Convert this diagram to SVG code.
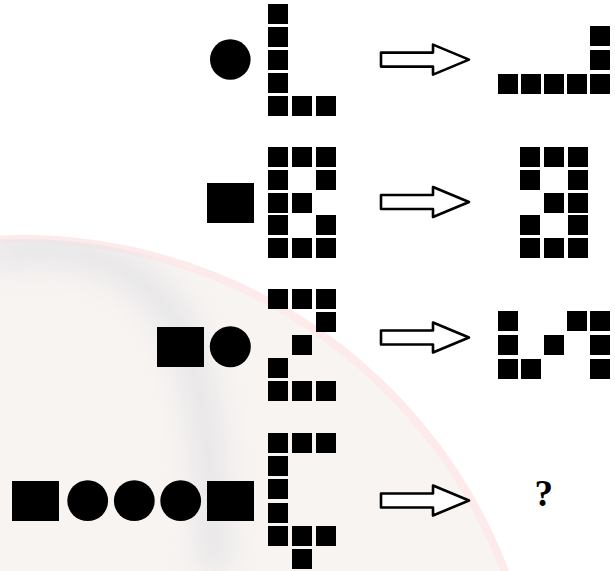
<svg xmlns="http://www.w3.org/2000/svg" xmlns:xlink="http://www.w3.org/1999/xlink" width="615" height="571" viewBox="0 0 615 571">
  <style>
    .c { fill: #000; }
    .s { fill: #000; }
    .arrow { fill: #fff; stroke: #000; stroke-width: 2.6; stroke-linejoin: round; }
    .q { font-family: "Liberation Serif", "Times New Roman", serif; font-weight: bold; font-size: 37px; fill: #000; }
  </style>
  <defs>
    <rect id="cell" width="20" height="20"/>
    <path id="arr" d="M381,-7 H433 V-15 L469,0 L433,15 V7 H381 Z"/>
    <filter id="blur" x="-50%" y="-50%" width="200%" height="200%">
      <feGaussianBlur stdDeviation="13"/>
    </filter>
    <clipPath id="wmclip"><circle cx="22" cy="756" r="517"/></clipPath>
  </defs>

  <rect width="615" height="571" fill="#fff"/>

  <!-- faint watermark -->
  <g id="watermark">
    <circle cx="22" cy="756" r="517" fill="#f8f4f2" stroke="#fdeaea" stroke-width="8"/>
    <g clip-path="url(#wmclip)">
      <path d="M-10,255 C60,235 140,260 175,320 C205,380 210,450 215,571" fill="none" stroke="#e2e2e5" stroke-width="36" filter="url(#blur)" opacity="0.7"/>
    </g>
  </g>

  <!-- Row 1 -->
  <g id="r1-input"><circle class="s" cx="230.3" cy="59.5" r="20.3"/></g>
  <g id="r1-grid" class="c">
    <use href="#cell" x="268" y="4"/>
    <use href="#cell" x="268" y="27"/>
    <use href="#cell" x="268" y="50"/>
    <use href="#cell" x="268" y="73"/>
    <use href="#cell" x="268" y="96"/>
    <use href="#cell" x="292" y="96"/>
    <use href="#cell" x="316" y="96"/>
  </g>
  <g id="r1-output" class="c">
    <use href="#cell" x="590" y="26"/>
    <use href="#cell" x="590" y="50"/>
    <use href="#cell" x="498" y="74"/>
    <use href="#cell" x="521" y="74"/>
    <use href="#cell" x="544" y="74"/>
    <use href="#cell" x="567" y="74"/>
    <use href="#cell" x="590" y="74"/>
  </g>

  <!-- Row 2 -->
  <g id="r2-input"><rect class="s" x="207" y="183" width="47" height="40"/></g>
  <g id="r2-grid" class="c">
    <use href="#cell" x="268" y="147"/><use href="#cell" x="292" y="147"/><use href="#cell" x="316" y="147"/>
    <use href="#cell" x="268" y="170"/><use href="#cell" x="316" y="170"/>
    <use href="#cell" x="268" y="193"/><use href="#cell" x="292" y="193"/>
    <use href="#cell" x="268" y="215"/><use href="#cell" x="316" y="215"/>
    <use href="#cell" x="268" y="238"/><use href="#cell" x="292" y="238"/><use href="#cell" x="316" y="238"/>
  </g>
  <g id="r2-output" class="c">
    <use href="#cell" x="520" y="147"/><use href="#cell" x="544" y="147"/><use href="#cell" x="568" y="147"/>
    <use href="#cell" x="520" y="170"/><use href="#cell" x="568" y="170"/>
    <use href="#cell" x="544" y="193"/><use href="#cell" x="568" y="193"/>
    <use href="#cell" x="520" y="215"/><use href="#cell" x="568" y="215"/>
    <use href="#cell" x="520" y="238"/><use href="#cell" x="544" y="238"/><use href="#cell" x="568" y="238"/>
  </g>

  <!-- Row 3 -->
  <g id="r3-input">
    <rect class="s" x="157" y="327" width="47" height="40"/>
    <circle class="s" cx="230.3" cy="346.7" r="20.5"/>
  </g>
  <g id="r3-grid" class="c">
    <use href="#cell" x="268" y="289"/><use href="#cell" x="292" y="289"/><use href="#cell" x="316" y="289"/>
    <use href="#cell" x="316" y="312"/>
    <use href="#cell" x="292" y="335"/>
    <use href="#cell" x="268" y="358"/>
    <use href="#cell" x="268" y="381"/><use href="#cell" x="292" y="381"/><use href="#cell" x="316" y="381"/>
  </g>
  <g id="r3-output" class="c">
    <use href="#cell" x="498" y="311"/><use href="#cell" x="567" y="311"/><use href="#cell" x="590" y="311"/>
    <use href="#cell" x="498" y="335"/><use href="#cell" x="544" y="335"/><use href="#cell" x="590" y="335"/>
    <use href="#cell" x="498" y="359"/><use href="#cell" x="521" y="359"/><use href="#cell" x="590" y="359"/>
  </g>

  <!-- Row 4 -->
  <g id="r4-input">
    <rect class="s" x="12" y="481" width="47" height="40"/>
    <circle class="s" cx="87.7" cy="500.7" r="20.4"/>
    <circle class="s" cx="134.3" cy="500.7" r="20.4"/>
    <circle class="s" cx="180.7" cy="500.7" r="20.4"/>
    <rect class="s" x="207" y="481" width="47" height="40"/>
  </g>
  <g id="r4-grid" class="c">
    <use href="#cell" x="268" y="433"/><use href="#cell" x="292" y="433"/><use href="#cell" x="316" y="433"/>
    <use href="#cell" x="268" y="456"/>
    <use href="#cell" x="268" y="479"/>
    <use href="#cell" x="268" y="503"/>
    <use href="#cell" x="268" y="526"/><use href="#cell" x="292" y="526"/><use href="#cell" x="316" y="526"/>
    <use href="#cell" x="292" y="549"/>
  </g>
  <g id="r4-output">
    <text class="q" x="543.7" y="506" text-anchor="middle">?</text>
  </g>

  <!-- Connectors -->
  <g id="connectors" class="arrow">
    <use href="#arr" y="59.6"/>
    <use href="#arr" y="202"/>
    <use href="#arr" y="337.5"/>
    <use href="#arr" y="500.5"/>
  </g>
</svg>
